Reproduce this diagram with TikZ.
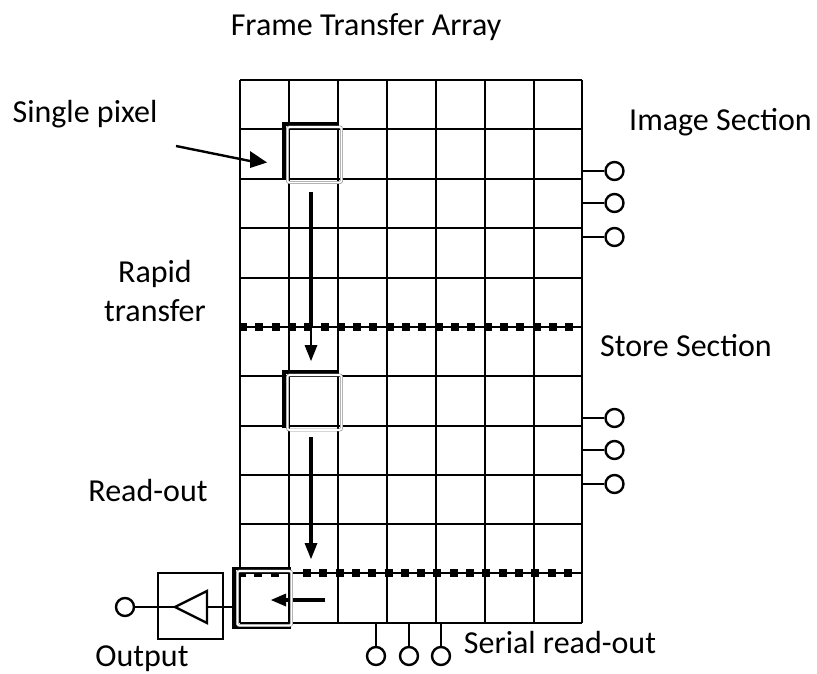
\documentclass[tikz,border=0pt]{standalone}
\usepackage{fontspec}
\setmainfont{Carlito}
\begin{document}
\begin{tikzpicture}[x=0.75pt,y=-0.75pt,
  gridline/.style={line width=1.6pt,black},
  wire/.style={line width=1.7pt,black},
  term/.style={circle,draw=black,line width=1.8pt,fill=white,minimum size=13.5pt,inner sep=0pt},
  lbl/.style={font=\fontsize{24}{29}\selectfont,text=black,inner sep=0pt,align=center},
  squares/.style={line width=6pt,black,dash pattern=on 6pt off 6.23pt},
  heavy/.style={line width=2.6pt,black},
  halo/.style={line width=1.2pt,white,rounded corners=1.5pt},
  halogray/.style={line width=2.2pt,black!45,rounded corners=1.5pt},
  tip/.style={fill=black,draw=none}]
\useasboundingbox (0,0) rectangle (817,674);
% grid
\foreach \y in {80,129,179,228,278,327,376,426,475,524,573,623}{\draw[gridline] (240,\y) -- (582,\y);}
\foreach \x in {240,289,338,387,436,485,534,582}{\draw[gridline] (\x,80) -- (\x,623);}
% section boundaries
\draw[squares] (239,327) -- (580,327);
\draw[squares] (238,573) -- (286,573);
\draw[squares] (303,573) -- (580,573);
% transfer arrows
\draw[line width=3.2pt,black] (311,192) -- (311,326);
\draw[line width=2.2pt,black] (311,326) -- (311,348);
\fill[tip] (311,361) -- (304.5,345) -- (317.5,345) -- cycle;
\draw[line width=3.2pt,black] (311,437) -- (311,546);
\fill[tip] (311,559) -- (304.5,543) -- (317.5,543) -- cycle;
\draw[line width=3.2pt,black] (325,600) -- (284,600);
\fill[tip] (271,600) -- (286,593.5) -- (286,606.5) -- cycle;
% pixel boxes
\draw[heavy] (284,179) -- (284,124) -- (338,124);
\draw[line width=3.6pt,black] (284,135) -- (284,180);
\draw[halogray] (287.5,127) rectangle (341.5,182.5);
\draw[halo] (287.5,127) rectangle (341.5,182.5);
\draw[heavy] (284,427) -- (284,372) -- (338,372);
\draw[line width=3.6pt,black] (284,382) -- (284,428);
\draw[halogray] (287.5,375) rectangle (341.5,430);
\draw[halo] (287.5,375) rectangle (341.5,430);
\draw[heavy] (291,568.5) -- (234,568.5) -- (234,627) -- (291,627);
\draw[halogray] (237.5,571) rectangle (291.5,625.5);
\draw[halo] (237.5,571) rectangle (291.5,625.5);
% single pixel arrow
\coordinate (pa) at (176,146);
\draw[line width=1.8pt,black] (pa) -- (255,162);
\fill[tip] (267,162.5) -- (250,151) -- (250,168) -- cycle;
% amplifier
\node[draw=black,line width=1.7pt,minimum width=48.5pt,minimum height=49.5pt,inner sep=0pt] (amp) at (190.5,606) {};
\node[term] (tout) at (125,607) {};
\coordinate (tri) at (175,607);
\coordinate (trr) at (207,607);
\coordinate (pix) at (236,607);
\draw[wire] (tout) -- (tri);
\draw[wire] (trr) -- (pix);
\draw[line width=1.7pt,black,line join=miter] (175,607) -- (207,591) -- (207,623) -- cycle;
% terminals right
\foreach \n/\y in {a/171,b/203,c/237,d/418,e/450,f/484}{
  \node[term] (r\n) at (614.5,\y) {};
  \coordinate (rs\n) at (582,\y);
  \draw[wire] (rs\n) -- (r\n);
}
% terminals bottom
\foreach \n/\x in {a/376,b/409,c/441}{
  \node[term] (b\n) at (\x,656) {};
  \coordinate (bs\n) at (\x,623);
  \draw[wire] (bs\n) -- (b\n);
}
% labels
\node[lbl] (t1) at (366,27) {Frame Transfer Array};
\node[lbl] (t2) at (85,114) {Single pixel};
\node[lbl] (t3) at (720.5,122) {Image Section};
\node[lbl] (t4) at (155,291) {Rapid\\transfer};
\node[lbl] (t5) at (686,346) {Store Section};
\node[lbl] (t6) at (148,491) {Read-out};
\node[lbl] (t7) at (560,642) {Serial read-out};
\node[lbl] (t8) at (142,659) {Output};
\end{tikzpicture}
\end{document}
